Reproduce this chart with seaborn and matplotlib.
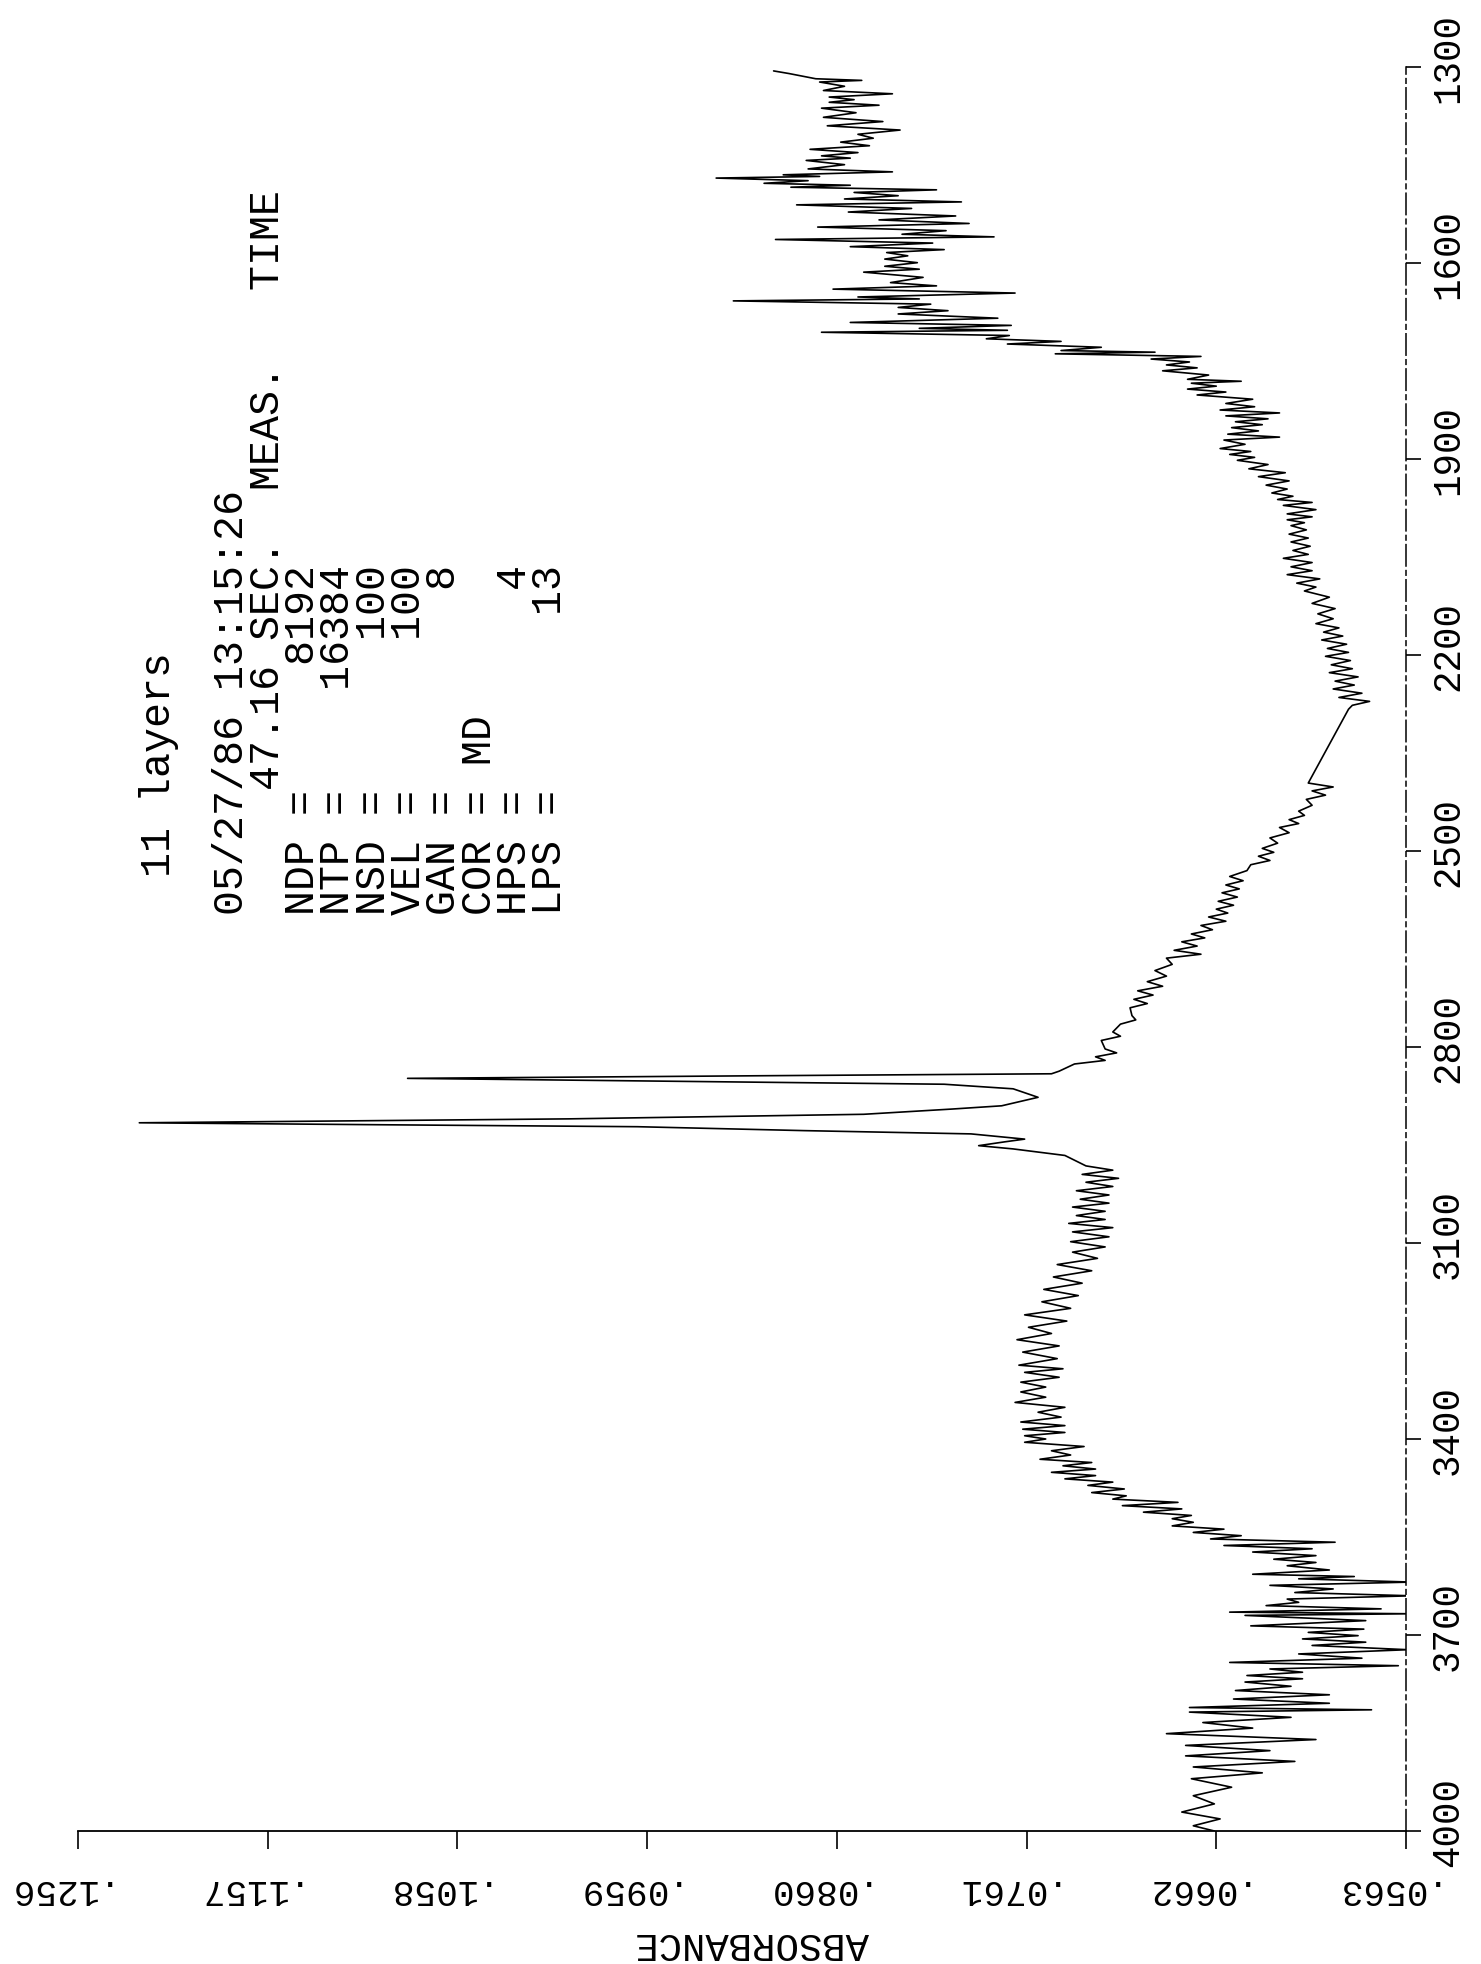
import matplotlib
matplotlib.use("Agg")
import matplotlib.pyplot as plt
import matplotlib.transforms as mtransforms
import seaborn as sns

# IR spectrum. Each row: wavenumber, left (high) and right (low)
# absorbance of the noise band at that wavenumber. Single points have left == right.
oh_wn = [4000, 3992, 3971, 3946, 3920, 3902, 3885, 3869, 3851, 3834, 3818, 3811, 3798, 3785,
         3772, 3762, 3752, 3742, 3729, 3716, 3706, 3696, 3686, 3670, 3665, 3655, 3645, 3635,
         3624, 3614, 3607, 3594, 3584, 3573, 3563, 3553, 3543, 3533, 3522, 3512, 3502, 3492,
         3482, 3471, 3461, 3451, 3441, 3431, 3418, 3405, 3395, 3385, 3374, 3359, 3344, 3328,
         3313, 3298, 3287, 3267, 3248, 3229, 3210, 3190, 3171, 3152, 3133, 3114, 3098, 3083,
         3070, 3058, 3045, 3033, 3020, 3007, 2995]
oh_left = [.0663, .0674, .0680, .0674, .0675, .0674, .0678, .0678, .0688, .0669, .0676, .0676,
           .0653, .0652, .0647, .0646, .0634, .0655, .0619, .0612, .0617, .0614, .0644, .0647,
           .0655, .0636, .0625, .0621, .0634, .0619, .0643, .0625, .0632, .0643, .0658, .0665,
           .0674, .0685, .0685, .0700, .0711, .0716, .0727, .0729, .0741, .0748, .0742, .0754,
           .0748, .0762, .0762, .0763, .0764, .0755, .0767, .0764, .0764, .0762, .0765, .0763,
           .0766, .0760, .0762, .0753, .0752, .0747, .0745, .0737, .0738, .0737, .0739, .0735,
           .0737, .0733, .0735, .0730, .0732]
oh_right = [.0663, .0660, .0663, .0654, .0638, .0621, .0634, .0610, .0643, .0623, .0581, .0603,
            .0603, .0623, .0617, .0617, .0567, .0586, .0562, .0584, .0588, .0585, .0584, .0560,
            .0576, .0619, .0560, .0601, .0560, .0590, .0603, .0610, .0610, .0612, .0600, .0649,
            .0658, .0674, .0675, .0680, .0682, .0709, .0710, .0716, .0725, .0725, .0727, .0738,
            .0731, .0751, .0741, .0741, .0743, .0741, .0751, .0751, .0744, .0742, .0745, .0744,
            .0748, .0740, .0738, .0734, .0732, .0727, .0724, .0720, .0718, .0716, .0720, .0720,
            .0718, .0718, .0716, .0713, .0716]

ch_wn = [2982, 2966, 2956, 2951, 2945, 2941, 2933, 2928, 2922, 2919, 2916, 2910, 2903, 2895,
         2890, 2877, 2864, 2857, 2853, 2848, 2844, 2841, 2837, 2826, 2815, 2803, 2790, 2777,
         2765, 2752]
ch_left = [.0730, .0741, .0768, .0786, .0772, .0762, .0790, .0877, .0964, .1098, .1224, .1000,
           .0846, .0800, .0774, .0755, .0768, .0804, .0930, .1084, .0900, .0748, .0744, .0736,
           .0725, .0720, .0722, .0716, .0712, .0706]
ch_right = [.0730, .0741, .0768, .0786, .0772, .0762, .0790, .0877, .0964, .1098, .1224, .1000,
            .0846, .0800, .0774, .0755, .0768, .0804, .0930, .1084, .0900, .0748, .0744, .0720,
            .0714, .0720, .0712, .0716, .0704, .0706]

mid_wn = [2740, 2727, 2714, 2700, 2683, 2664, 2652, 2639, 2627, 2614, 2601, 2589, 2577, 2564,
          2552, 2539, 2521, 2508, 2496, 2480, 2464, 2452, 2439, 2421, 2408, 2396, 2283, 2277,
          2265, 2252, 2240, 2227, 2215, 2202, 2190, 2177, 2165, 2152, 2137, 2121, 2102, 2090,
          2077, 2065, 2052, 2040, 2027, 2015, 2002, 1993, 1984, 1971, 1962, 1952, 1940, 1927,
          1915, 1902, 1893, 1884, 1871, 1862, 1852, 1843, 1834, 1825, 1815, 1802, 1793, 1784]
mid_left = [.0707, .0705, .0703, .0698, .0694, .0688, .0684, .0680, .0675, .0670, .0666, .0662,
            .0661, .0659, .0657, .0655, .0644, .0640, .0638, .0634, .0629, .0624, .0619, .0615,
            .0612, .0614, .0593, .0591, .0598, .0601, .0600, .0603, .0602, .0605, .0604, .0607,
            .0606, .0610, .0609, .0612, .0616, .0620, .0625, .0623, .0627, .0622, .0623, .0624,
            .0623, .0625, .0625, .0627, .0630, .0633, .0636, .0640, .0645, .0651, .0655, .0660,
            .0658, .0656, .0654, .0652, .0657, .0660, .0657, .0672, .0677, .0675]
mid_right = [.0698, .0695, .0690, .0688, .0685, .0670, .0672, .0668, .0664, .0657, .0656, .0653,
             .0651, .0650, .0648, .0646, .0634, .0632, .0630, .0624, .0619, .0616, .0612, .0605,
             .0601, .0614, .0593, .0582, .0586, .0590, .0588, .0591, .0592, .0593, .0594, .0596,
             .0598, .0601, .0600, .0603, .0610, .0608, .0612, .0612, .0614, .0613, .0614, .0615,
             .0616, .0612, .0610, .0612, .0622, .0625, .0624, .0626, .0635, .0642, .0644, .0647,
             .0629, .0640, .0638, .0635, .0629, .0642, .0643, .0657, .0662, .0649]

fp_wn = [1778, 1765, 1756, 1747, 1739, 1734, 1724, 1716, 1706, 1700, 1691, 1678, 1668, 1658,
         1652, 1640, 1630, 1614, 1605, 1594, 1584, 1575, 1564, 1556, 1545, 1534, 1522, 1511,
         1502, 1492, 1484, 1478, 1470, 1465, 1456, 1443, 1436, 1426, 1415, 1403, 1390, 1377,
         1363, 1354, 1346, 1336, 1323, 1318, 1310, 1306]
fp_left = [.0677, .0690, .0688, .0696, .0746, .0743, .0771, .0782, .0868, .0817, .0853, .0828,
           .0828, .0914, .0849, .0862, .0832, .0846, .0835, .0835, .0834, .0853, .0892, .0826,
           .0870, .0838, .0854, .0881, .0856, .0851, .0884, .0898, .0923, .0888, .0875, .0876,
           .0868, .0874, .0858, .0849, .0865, .0867, .0868, .0864, .0864, .0867, .0869, .0871,
           .0885, .0893]
fp_right = [.0666, .0672, .0676, .0670, .0694, .0722, .0743, .0770, .0771, .0769, .0776, .0802,
            .0811, .0817, .0767, .0808, .0815, .0817, .0818, .0823, .0804, .0810, .0778, .0803,
            .0791, .0798, .0821, .0795, .0828, .0808, .0853, .0875, .0869, .0831, .0856, .0853,
            .0849, .0843, .0841, .0827, .0836, .0850, .0838, .0851, .0831, .0856, .0847, .0871,
            .0885, .0893]

abs_ticks = [.0563, .0662, .0761, .0860, .0959, .1058, .1157, .1256]
abs_labels = [".0563", ".0662", ".0761", ".0860", ".0959", ".1058", ".1157", ".1256"]
wn_ticks = [4000, 3700, 3400, 3100, 2800, 2500, 2200, 1900, 1600, 1300]

title = "11 layers"
header = ["05/27/86 13:15:26",
          "     47.16 SEC.  MEAS.   TIME",
          "NDP =     8192",
          "NTP =    16384",
          "NSD =      100",
          "VEL =      100",
          "GAN =        8",
          "COR = MD",
          "HPS =        4",
          "LPS =       13"]

# zig-zag through each noise band: high value at the row, low value half way to the next row
rows_wn = oh_wn + ch_wn + mid_wn + fp_wn
rows_l = oh_left + ch_left + mid_left + fp_left
rows_r = oh_right + ch_right + mid_right + fp_right
xs, ys = [], []
for i, (w, a, b) in enumerate(zip(rows_wn, rows_l, rows_r)):
    xs.append(a)
    ys.append(w)
    if b != a:
        w_next = rows_wn[i + 1] if i + 1 < len(rows_wn) else w - 4
        xs.append(b)
        ys.append((w + w_next) / 2)

sns.set_theme(style="ticks")
plt.rcParams["font.family"] = ["Liberation Mono", "DejaVu Sans Mono"]

W, H = 1481, 1965
fig = plt.figure(figsize=(W / 100, H / 100), dpi=100)
ax = fig.add_axes([78 / W, 1 - 1832 / H, (1406 - 78) / W, (1832 - 68) / H])

sns.lineplot(x=xs, y=ys, sort=False, estimator=None, color="black", linewidth=1.2, ax=ax)

ax.set_xlim(.1256, .0563)
ax.set_ylim(4000, 1300)
ax.set_xticks(abs_ticks)
ax.set_yticks(wn_ticks)
ax.yaxis.tick_right()
ax.tick_params(axis="x", direction="out", length=13, width=1.2, color="black",
               bottom=True, labelbottom=False)
ax.tick_params(axis="y", direction="out", length=11, width=1.2, color="black",
               right=True, left=False, labelright=False, labelleft=False)
ax.set_xlabel("")
ax.set_ylabel("")
for s in ["top", "left"]:
    ax.spines[s].set_visible(False)
ax.spines["bottom"].set_color("black")
ax.spines["bottom"].set_linewidth(1.3)
ax.spines["right"].set_color("black")
ax.spines["right"].set_linewidth(1.1)
ax.spines["right"].set_linestyle((0, (14, 3, 3, 3)))

# tick labels, plotter style (page rotated)
xtrans = mtransforms.blended_transform_factory(ax.transData, ax.transAxes) + \
    mtransforms.ScaledTranslation(-0.28, -0.58, fig.dpi_scale_trans)
for v, lab in zip(abs_ticks, abs_labels):
    ax.text(v, 0, lab, transform=xtrans, rotation=180, ha="center", va="center",
            fontsize=26, color="black")
ytrans = mtransforms.blended_transform_factory(ax.transAxes, ax.transData) + \
    mtransforms.ScaledTranslation(0.42, 0.10, fig.dpi_scale_trans)
for v in wn_ticks:
    ax.text(1, v, str(v), transform=ytrans, rotation=90, ha="center", va="center",
            fontsize=27, color="black")

fig.text(752 / W, 1 - 1943 / H, "ABSORBANCE", rotation=180, ha="center", va="center",
         fontsize=28, color="black")

fig.text(170 / W, 1 - 877 / H, title, rotation=90, rotation_mode="anchor",
         ha="left", va="baseline", fontsize=30, color="black")
# header block: one text, anchored on the baseline of its last line
fig.text(566 / W, 1 - 915 / H, "\n".join(header), rotation=90, rotation_mode="anchor",
         ha="left", va="baseline", multialignment="left", linespacing=0.85,
         fontsize=30, color="black")

fig.savefig("out.png", dpi=100, facecolor="white")
